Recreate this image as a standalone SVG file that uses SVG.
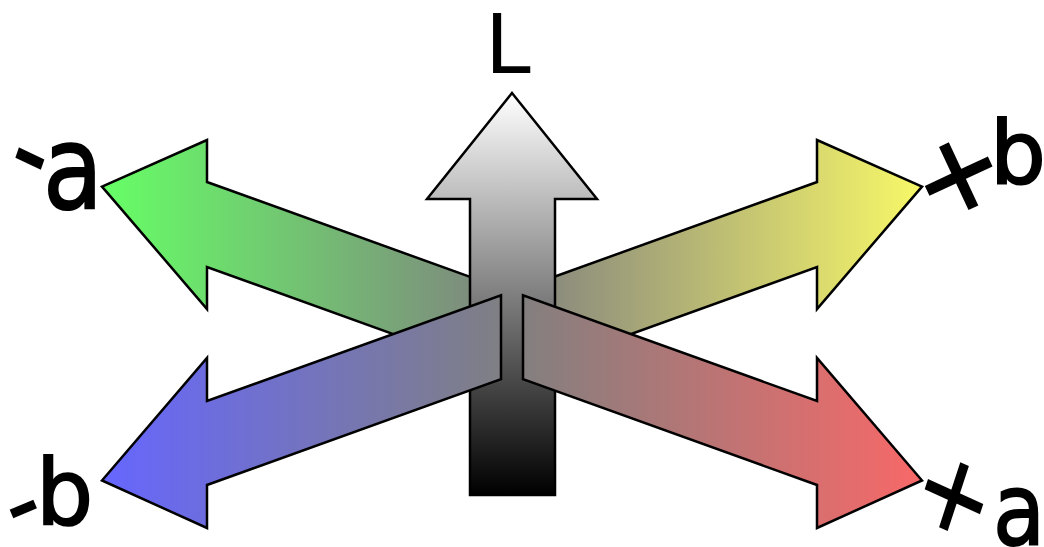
<svg xmlns="http://www.w3.org/2000/svg" width="1044" height="547" viewBox="0 0 1044 547">
  <style>
    .arrow { stroke: #000; stroke-width: 2.5; stroke-linejoin: miter; }
    .lbl { font-family: "DejaVu Sans", "Liberation Sans", sans-serif; fill: #000; }
    .sign { stroke: #000; stroke-width: 2; }
  </style>
  <defs>
    <linearGradient id="gGreen" gradientUnits="userSpaceOnUse" x1="102" y1="0" x2="512" y2="0">
      <stop offset="0" stop-color="#66ff66"/>
      <stop offset="1" stop-color="#808080"/>
    </linearGradient>
    <linearGradient id="gYellow" gradientUnits="userSpaceOnUse" x1="922" y1="0" x2="512" y2="0">
      <stop offset="0" stop-color="#f8f868"/>
      <stop offset="1" stop-color="#808080"/>
    </linearGradient>
    <linearGradient id="gBlue" gradientUnits="userSpaceOnUse" x1="102" y1="0" x2="512" y2="0">
      <stop offset="0" stop-color="#6666ff"/>
      <stop offset="1" stop-color="#808080"/>
    </linearGradient>
    <linearGradient id="gRed" gradientUnits="userSpaceOnUse" x1="922" y1="0" x2="512" y2="0">
      <stop offset="0" stop-color="#f86868"/>
      <stop offset="1" stop-color="#808080"/>
    </linearGradient>
    <linearGradient id="gL" gradientUnits="userSpaceOnUse" x1="0" y1="93" x2="0" y2="495">
      <stop offset="0" stop-color="#ffffff"/>
      <stop offset="1" stop-color="#000000"/>
    </linearGradient>
  </defs>
  <rect width="1044" height="547" fill="#ffffff"/>

  <g id="node-minus-a">
    <polygon class="arrow" fill="url(#gGreen)" points="102,186.6 207,140 207,182 512,292 512,377 207,267 207,309"/>
    <text class="lbl sign" transform="scale(0.85,1)" x="4 50.6" y="180 208" rotate="22 0" font-size="115">-a</text>
  </g>
  <g id="node-plus-b">
    <polygon class="arrow" fill="url(#gYellow)" points="922,186.6 817,140 817,182 512,292 512,377 817,267 817,309"/>
    <text class="lbl sign" x="932 990" y="226 183" rotate="-25 0" font-size="88"><tspan font-size="108">+</tspan>b</text>
  </g>
  <g id="node-L">
    <polygon class="arrow" fill="url(#gL)" points="512,93 597,199 555,199 555,495 470,495 470,199 427,199"/>
    <text class="lbl" x="485" y="73" font-size="82">L</text>
  </g>
  <g id="node-minus-b">
    <polygon class="arrow" fill="url(#gBlue)" points="102,480.5 207,358 207,401 501,295.2 501,379.2 207,485 207,528"/>
    <text class="lbl sign" x="18 36" y="538 524" rotate="-23 0" font-size="90">-b</text>
  </g>
  <g id="node-plus-a">
    <polygon class="arrow" fill="url(#gRed)" points="922,480.5 817,358 817,401 523,295.2 523,379.2 817,485 817,528"/>
    <text class="lbl sign" transform="scale(0.85,1)" x="1068 1168.2" y="512 545" rotate="21 0" font-size="100"><tspan font-size="108">+</tspan>a</text>
  </g>
  <g id="connectors"/>
</svg>
